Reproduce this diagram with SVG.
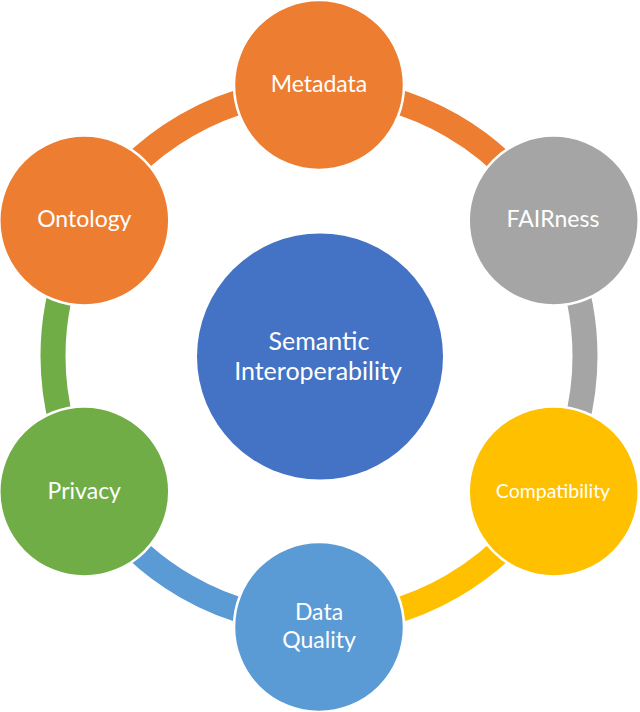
<svg xmlns="http://www.w3.org/2000/svg" width="640" height="712" viewBox="0 0 640 712">
<style>
.band{fill:none;stroke-width:25}
.node{stroke:#fff;stroke-width:2.5}
.lbl{font-family:Lato,"Open Sans","Liberation Sans",sans-serif;fill:#fff;text-anchor:middle;dominant-baseline:central}
</style>
<rect width="640" height="712" fill="#fff"/>
<g id="connectors">
<path class="band" stroke="#ED7D31" d="M319,90 A266,266 0 0 1 549.36,223"/>
<path class="band" stroke="#A5A5A5" d="M549.36,223 A266,266 0 0 1 549.36,489"/>
<path class="band" stroke="#FFC000" d="M549.36,489 A266,266 0 0 1 319,622"/>
<path class="band" stroke="#5B9BD5" d="M319,622 A266,266 0 0 1 88.64,489"/>
<path class="band" stroke="#70AD47" d="M88.64,489 A266,266 0 0 1 88.64,223"/>
<path class="band" stroke="#ED7D31" d="M88.64,223 A266,266 0 0 1 319,90"/>
</g>
<g id="center">
<circle cx="320" cy="356.5" r="123" fill="#4472C4"/>
<text class="lbl" x="319" y="340" font-size="25">Semantic</text>
<text class="lbl" x="318" y="370" font-size="25">Interoperability</text>
</g>
<g id="metadata">
<circle class="node" cx="319" cy="85" r="85" fill="#ED7D31"/>
<text class="lbl" x="319" y="83" font-size="23">Metadata</text>
</g>
<g id="fairness">
<circle class="node" cx="553.7" cy="220.5" r="85" fill="#A5A5A5"/>
<text class="lbl" x="553" y="218" font-size="23">FAIRness</text>
</g>
<g id="compatibility">
<circle class="node" cx="553.7" cy="491.5" r="85" fill="#FFC000"/>
<text class="lbl" x="553" y="490" font-size="19.5">Compatibility</text>
</g>
<g id="dataquality">
<circle class="node" cx="319" cy="627" r="85" fill="#5B9BD5"/>
<text class="lbl" x="319" y="611" font-size="23">Data</text>
<text class="lbl" x="319" y="639" font-size="23">Quality</text>
</g>
<g id="privacy">
<circle class="node" cx="84.3" cy="491.5" r="85" fill="#70AD47"/>
<text class="lbl" x="84.3" y="490" font-size="23">Privacy</text>
</g>
<g id="ontology">
<circle class="node" cx="84.3" cy="220.5" r="85" fill="#ED7D31"/>
<text class="lbl" x="84.3" y="218" font-size="23">Ontology</text>
</g>
</svg>
